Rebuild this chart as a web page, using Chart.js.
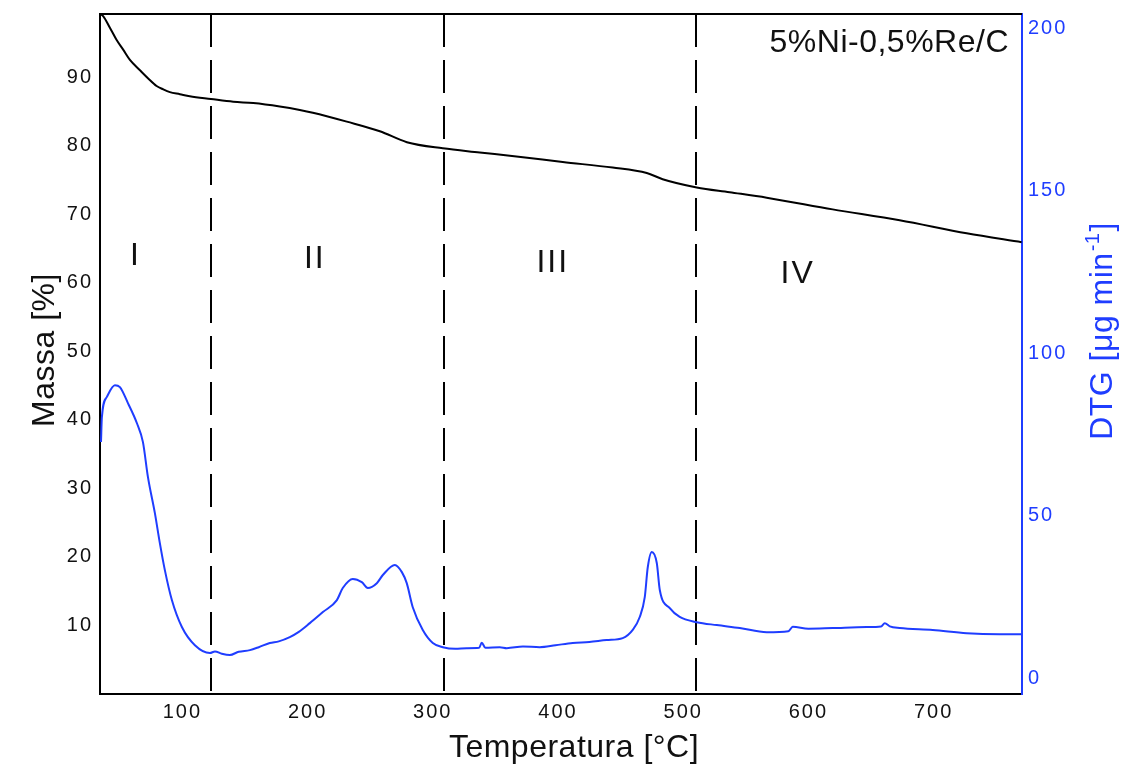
<!DOCTYPE html>
<html>
<head>
<meta charset="utf-8">
<script src="https://cdn.jsdelivr.net/npm/chart.js@4/dist/chart.umd.min.js"></script>
<style>
html,body{margin:0;padding:0;background:#fff;}
#wrap{width:1122px;height:765px;}
</style>
</head>
<body>
<div id="wrap"><canvas id="c" width="1122" height="765"></canvas></div>
<script>
// ---- data ----
const temperatureMass = [34.2, 36.7, 42.1, 47.5, 52.7, 58.1, 66.1, 72.7, 79.4, 84.7, 90, 98, 105.9, 122.8, 140.6, 156.6, 177.8, 193.8, 204.2, 231.3, 257.7, 279.3, 308, 337.5, 372, 403.8, 443.7, 470.9, 483.6, 510.8, 537.1, 566.7, 619.4, 672.9, 726.4, 770.3];
const massValues = [99.2, 98.9, 97.2, 95.4, 94.0, 92.5, 91.0, 89.8, 88.7, 88.2, 87.8, 87.5, 87.2, 86.8, 86.4, 86.2, 85.7, 85.2, 84.8, 83.5, 82.1, 80.5, 79.6, 79.0, 78.3, 77.6, 76.8, 76.0, 75.1, 73.9, 73.2, 72.4, 70.7, 69.1, 67.2, 65.9];

const temperatureDTG = [35.0, 35.7, 39.7, 46.1, 50.1, 56.5, 63.7, 68.5, 72.5, 78.0, 82.0, 86.0, 91.6, 99.6, 110.0, 122.0, 126.0, 131.5, 137.9, 145.0, 153.9, 161.0, 169.8, 177.0, 185.8, 193.0, 201.8, 212.2, 223.4, 228.1, 236.1, 243.3, 248.1, 255.3, 260.1, 269.7, 275.3, 279.2, 284.0, 292.0, 300.0, 308.0, 318.0, 327.1, 337.0, 339.1, 342.0, 353.5, 359.1, 372.0, 385.4, 398.0, 411.8, 425.0, 438.9, 451.7, 459.7, 465.3, 469.3, 471.7, 474.9, 478.9, 481.3, 489.3, 497.2, 510.8, 526.8, 545.2, 566.7, 584.0, 587.5, 600.0, 619.4, 646.6, 658.0, 661.0, 665.0, 672.9, 699.3, 726.4, 752.7, 770.3];
const dtgValues = [72.7, 80.4, 86.6, 90.2, 89.6, 84.7, 78.5, 72.7, 61.9, 50.9, 41.6, 33.3, 24.1, 15.8, 10.2, 7.8, 8.3, 7.6, 7.2, 8.2, 8.7, 9.6, 10.9, 11.4, 12.7, 14.3, 17.0, 20.4, 24.1, 27.8, 30.6, 29.6, 27.8, 29.3, 31.8, 34.9, 32.7, 29.3, 21.9, 14.9, 10.9, 9.6, 9.1, 9.3, 9.4, 11.0, 9.4, 9.6, 9.3, 9.8, 9.6, 10.2, 10.9, 11.2, 11.8, 12.4, 14.9, 18.9, 25.0, 34.2, 38.9, 35.5, 27.2, 21.6, 18.9, 17.3, 16.4, 15.5, 14.2, 14.5, 15.9, 15.3, 15.5, 15.8, 16.0, 17.0, 16.0, 15.5, 14.9, 13.9, 13.6, 13.6];

const boundaryTemps = [122.8, 308.8, 510.5];
const regionLabels = ['I', 'II', 'III', 'IV'];
const regionTemps = [61.8, 205, 395, 590.6];
const regionMass = [63.8, 63.4, 62.8, 61.2];

const xTicks = [100, 200, 300, 400, 500, 600, 700];
const massTicks = [10, 20, 30, 40, 50, 60, 70, 80, 90];
const dtgTicks = [0, 50, 100, 150, 200];

const sampleName = '5%Ni-0,5%Re/C';
const xTitle = 'Temperatura [°C]';
const yTitle = 'Massa [%]';
const y2TitleMain = 'DTG [μg min';
const y2TitleSup = '-1';
const y2TitleEnd = ']';

const BLUE = '#1f3dff';
const FONT = '"Liberation Sans", Arial, sans-serif';

const massData = temperatureMass.map((t, i) => ({x: t, y: massValues[i]}));
const dtgData = temperatureDTG.map((t, i) => ({x: t, y: dtgValues[i]}));

function noPad(s) { s.paddingTop = 0; s.paddingBottom = 0; s.paddingLeft = 0; s.paddingRight = 0; }

const customDraw = {
  id: 'customDraw',
  beforeDraw(chart) {
    chart.ctx.letterSpacing = '2px';
  },
  beforeDatasetsDraw(chart) {
    const ctx = chart.ctx;
    const a = chart.chartArea;
    const xs = chart.scales.x;
    ctx.save();
    ctx.letterSpacing = '0px';
    ctx.strokeStyle = '#000';
    ctx.lineWidth = 2;
    ctx.setLineDash([33, 13]);
    boundaryTemps.forEach(t => {
      const px = Math.round(xs.getPixelForValue(t));
      ctx.beginPath();
      ctx.moveTo(px, a.top);
      ctx.lineTo(px, a.bottom);
      ctx.stroke();
    });
    ctx.restore();
  },
  afterDraw(chart) {
    const ctx = chart.ctx;
    const a = chart.chartArea;
    const xs = chart.scales.x, ys = chart.scales.y;
    ctx.save();
    // top frame line
    ctx.strokeStyle = '#000';
    ctx.lineWidth = 2;
    ctx.beginPath();
    ctx.moveTo(a.left, a.top);
    ctx.lineTo(a.right, a.top);
    ctx.stroke();

    ctx.fillStyle = '#111';
    // region labels
    ctx.font = '32px ' + FONT;
    ctx.textAlign = 'center';
    ctx.textBaseline = 'middle';
    ctx.letterSpacing = '2px';
    regionLabels.forEach((lab, i) => {
      ctx.fillText(lab, xs.getPixelForValue(regionTemps[i]) + 1, ys.getPixelForValue(regionMass[i]));
    });
    ctx.letterSpacing = '0.5px';
    // sample name
    ctx.textAlign = 'right';
    ctx.textBaseline = 'alphabetic';
    ctx.fillText(sampleName, a.right - 13, a.top + 38);
    // x title
    ctx.textAlign = 'center';
    ctx.fillText(xTitle, 574, 757);
    // y title
    ctx.save();
    ctx.translate(54, 350);
    ctx.rotate(-Math.PI / 2);
    ctx.fillText(yTitle, 0, 0);
    ctx.restore();
    // y2 title
    ctx.save();
    ctx.fillStyle = BLUE;
    ctx.translate(1112, 331);
    ctx.rotate(-Math.PI / 2);
    ctx.textAlign = 'left';
    ctx.font = '32px ' + FONT;
    const w1 = ctx.measureText(y2TitleMain).width;
    const w3 = ctx.measureText(y2TitleEnd).width;
    ctx.font = '20px ' + FONT;
    const w2 = ctx.measureText(y2TitleSup).width;
    const total = w1 + w2 + w3 + 2;
    let x0 = -total / 2;
    ctx.font = '32px ' + FONT;
    ctx.fillText(y2TitleMain, x0, 0);
    ctx.font = '20px ' + FONT;
    ctx.fillText(y2TitleSup, x0 + w1 + 1, -13);
    ctx.font = '32px ' + FONT;
    ctx.fillText(y2TitleEnd, x0 + w1 + w2 + 2, 0);
    ctx.restore();
    ctx.restore();
  }
};

new Chart(document.getElementById('c'), {
  type: 'line',
  data: {
    datasets: [
      {
        label: 'Massa',
        data: massData,
        yAxisID: 'y',
        borderColor: '#000',
        borderWidth: 2,
        pointRadius: 0,
        cubicInterpolationMode: 'monotone',
        fill: false
      },
      {
        label: 'DTG',
        data: dtgData,
        yAxisID: 'y2',
        borderColor: BLUE,
        borderWidth: 2,
        pointRadius: 0,
        cubicInterpolationMode: 'monotone',
        fill: false
      }
    ]
  },
  options: {
    responsive: false,
    animation: false,
    events: [],
    layout: {padding: {top: 14, left: 0, right: 0, bottom: 0}},
    plugins: {legend: {display: false}, tooltip: {enabled: false}},
    scales: {
      x: {
        type: 'linear',
        min: 34.2,
        max: 770.6,
        grid: {display: false, drawTicks: false},
        border: {display: true, color: '#000', width: 2},
        afterBuildTicks: s => { s.ticks = xTicks.map(v => ({value: v})); },
        afterFit: s => { s.height = 71; noPad(s); },
        ticks: {color: '#111', font: {family: FONT, size: 20}, padding: 6, maxRotation: 0, autoSkip: false}
      },
      y: {
        type: 'linear',
        position: 'left',
        min: 0,
        max: 99.2,
        grid: {display: false, drawTicks: false},
        border: {display: true, color: '#000', width: 2},
        afterBuildTicks: s => { s.ticks = massTicks.map(v => ({value: v})); },
        afterFit: s => { s.width = 100; noPad(s); },
        ticks: {color: '#111', font: {family: FONT, size: 20}, padding: 7, autoSkip: false}
      },
      y2: {
        type: 'linear',
        position: 'right',
        min: -4.8,
        max: 204.4,
        grid: {display: false, drawTicks: false},
        border: {display: true, color: BLUE, width: 2},
        afterBuildTicks: s => { s.ticks = dtgTicks.map(v => ({value: v})); },
        afterFit: s => { s.width = 100; noPad(s); },
        ticks: {color: BLUE, font: {family: FONT, size: 20}, padding: 6, autoSkip: false}
      }
    }
  },
  plugins: [customDraw]
});
</script>
</body>
</html>
